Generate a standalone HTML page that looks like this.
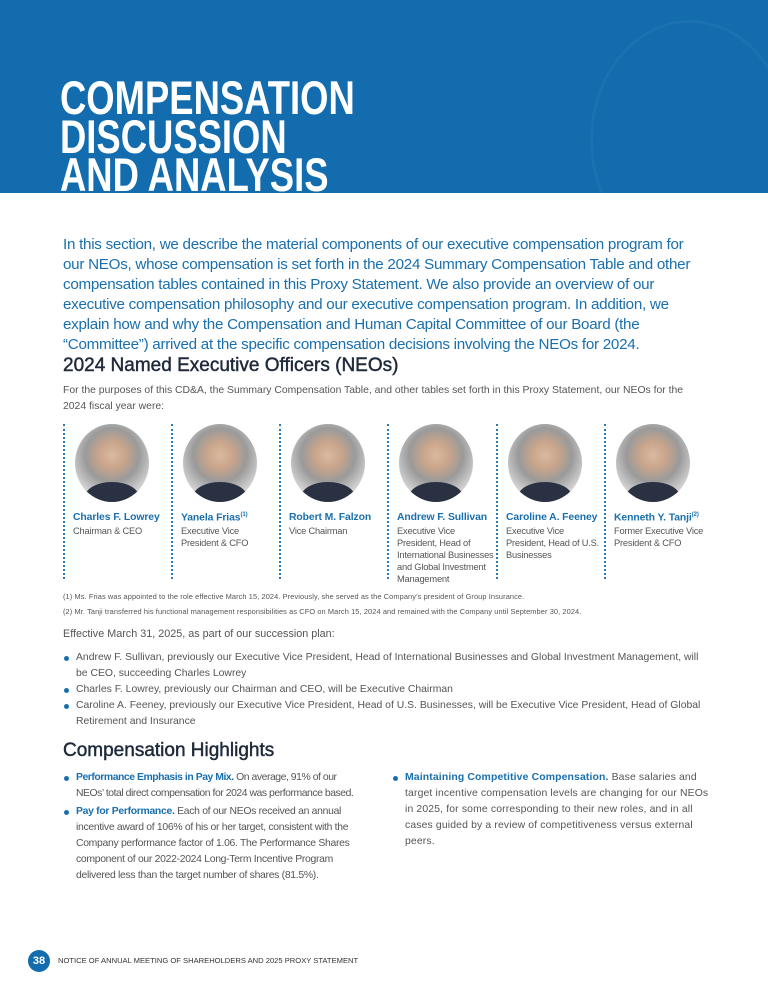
<!DOCTYPE html>
<html><head><meta charset="utf-8"><style>
*{margin:0;padding:0;box-sizing:border-box}
body{width:768px;height:1000px;background:#fff;position:relative;font-family:"Liberation Sans",sans-serif;overflow:hidden;color:#444}
.hdr{position:absolute;left:0;top:0;width:768px;height:193px;background:#126cae;overflow:hidden}
.hdr .deco{position:absolute;left:590px;top:20px;width:200px;height:240px;border-radius:50%;border:3px solid rgba(255,255,255,0.04)}
.title{position:absolute;left:60px;top:79px;color:#fff;font-weight:bold;font-size:47px;line-height:38.5px;transform:scaleX(0.775);transform-origin:0 0;white-space:nowrap}
.intro{position:absolute;left:63px;top:235px;color:#1a6fae;font-size:15.2px;line-height:20px;white-space:nowrap;letter-spacing:-0.27px}
h2{position:absolute;left:63px;font-size:19px;color:#1e2a3a;font-weight:normal;-webkit-text-stroke:0.45px #1e2a3a}
.p{position:absolute;left:63px;font-size:10.4px;line-height:16px;color:#555;white-space:nowrap;letter-spacing:0}
.col{position:absolute;top:424px;width:108px;height:155px;border-left:2px dotted #2a7ab8;padding-left:8px}
.ph{width:74px;height:78px;border-radius:50%;background:radial-gradient(circle at 50% 40%,#d9b9a0 0,#c9a58b 22%,#9a9a9a 45%,#cfcfcf 70%,#e8e8e8 100%);margin-left:2px;position:relative;overflow:hidden}
.ph:after{content:"";position:absolute;left:10px;top:58px;width:54px;height:30px;border-radius:50% 50% 0 0;background:#2a3142}
.nm{margin-top:10px;color:#1a6fae;font-weight:bold;font-size:10.4px;white-space:nowrap;letter-spacing:-0.1px}
.rl{font-size:9.3px;line-height:12px;color:#555;margin-top:2px;white-space:nowrap;letter-spacing:-0.2px}
sup{font-size:6px}
.fn{position:absolute;left:63px;font-size:7.4px;color:#555;white-space:nowrap;letter-spacing:0.1px}
ul{position:absolute;list-style:none}
li{position:relative;padding-left:13px;font-size:10.4px;line-height:16px;color:#555;white-space:nowrap;letter-spacing:0}
li:before{content:"";position:absolute;left:1px;top:6px;width:5px;height:5px;border-radius:50%;background:#1a6fae}
b.bl{color:#1a6fae}
.foot{position:absolute;left:28px;top:950px;width:22px;height:22px;border-radius:50%;background:#126cae;color:#fff;font-size:11px;font-weight:bold;text-align:center;line-height:22px}
.ft{position:absolute;left:58px;top:956px;font-size:7.6px;color:#333}
</style></head><body>
<div class="hdr"><div class="deco"></div><div class="title">COMPENSATION<br>DISCUSSION<br>AND ANALYSIS</div></div>
<div class="intro">In this section, we describe the material components of our executive compensation program for<br>our NEOs, whose compensation is set forth in the 2024 Summary Compensation Table and other<br>compensation tables contained in this Proxy Statement. We also provide an overview of our<br>executive compensation philosophy and our executive compensation program. In addition, we<br>explain how and why the Compensation and Human Capital Committee of our Board (the<br>“Committee”) arrived at the specific compensation decisions involving the NEOs for 2024.</div>
<h2 style="top:355px">2024 Named Executive Officers (NEOs)</h2>
<div class="p" style="top:383px">For the purposes of this CD&amp;A, the Summary Compensation Table, and other tables set forth in this Proxy Statement, our NEOs for the<br>2024 fiscal year were:</div>

<div class="col" style="left:63px"><div class="ph"></div><div class="nm">Charles F. Lowrey</div><div class="rl">Chairman &amp; CEO</div></div>
<div class="col" style="left:171px"><div class="ph"></div><div class="nm">Yanela Frias<sup>(1)</sup></div><div class="rl">Executive Vice<br>President &amp; CFO</div></div>
<div class="col" style="left:279px"><div class="ph"></div><div class="nm">Robert M. Falzon</div><div class="rl">Vice Chairman</div></div>
<div class="col" style="left:387px"><div class="ph"></div><div class="nm">Andrew F. Sullivan</div><div class="rl">Executive Vice<br>President, Head of<br>International Businesses<br>and Global Investment<br>Management</div></div>
<div class="col" style="left:496px"><div class="ph"></div><div class="nm">Caroline A. Feeney</div><div class="rl">Executive Vice<br>President, Head of U.S.<br>Businesses</div></div>
<div class="col" style="left:604px"><div class="ph"></div><div class="nm">Kenneth Y. Tanji<sup>(2)</sup></div><div class="rl">Former Executive Vice<br>President &amp; CFO</div></div>

<div class="fn" style="top:592px">(1) Ms. Frias was appointed to the role effective March 15, 2024. Previously, she served as the Company’s president of Group Insurance.</div>
<div class="fn" style="top:607px">(2) Mr. Tanji transferred his functional management responsibilities as CFO on March 15, 2024 and remained with the Company until September 30, 2024.</div>
<div class="p" style="top:626px;font-size:10.8px">Effective March 31, 2025, as part of our succession plan:</div>
<ul style="left:63px;top:650px">
<li>Andrew F. Sullivan, previously our Executive Vice President, Head of International Businesses and Global Investment Management, will<br>be CEO, succeeding Charles Lowrey</li>
<li>Charles F. Lowrey, previously our Chairman and CEO, will be Executive Chairman</li>
<li>Caroline A. Feeney, previously our Executive Vice President, Head of U.S. Businesses, will be Executive Vice President, Head of Global<br>Retirement and Insurance</li>
</ul>
<h2 style="top:740px">Compensation Highlights</h2>
<ul style="left:63px;top:770px">
<li style="margin-bottom:2px;letter-spacing:-0.45px"><b class="bl">Performance Emphasis in Pay Mix.</b> On average, 91% of our<br>NEOs’ total direct compensation for 2024 was performance based.</li>
<li style="letter-spacing:-0.3px"><b class="bl">Pay for Performance.</b> Each of our NEOs received an annual<br>incentive award of 106% of his or her target, consistent with the<br>Company performance factor of 1.06. The Performance Shares<br>component of our 2022-2024 Long-Term Incentive Program<br>delivered less than the target number of shares (81.5%).</li>
</ul>
<ul style="left:392px;top:770px">
<li style="letter-spacing:0.15px"><b class="bl">Maintaining Competitive Compensation.</b> Base salaries and<br>target incentive compensation levels are changing for our NEOs<br>in 2025, for some corresponding to their new roles, and in all<br>cases guided by a review of competitiveness versus external<br>peers.</li>
</ul>
<div class="foot">38</div>
<div class="ft">NOTICE OF ANNUAL MEETING OF SHAREHOLDERS AND 2025 PROXY STATEMENT</div>
</body></html>
